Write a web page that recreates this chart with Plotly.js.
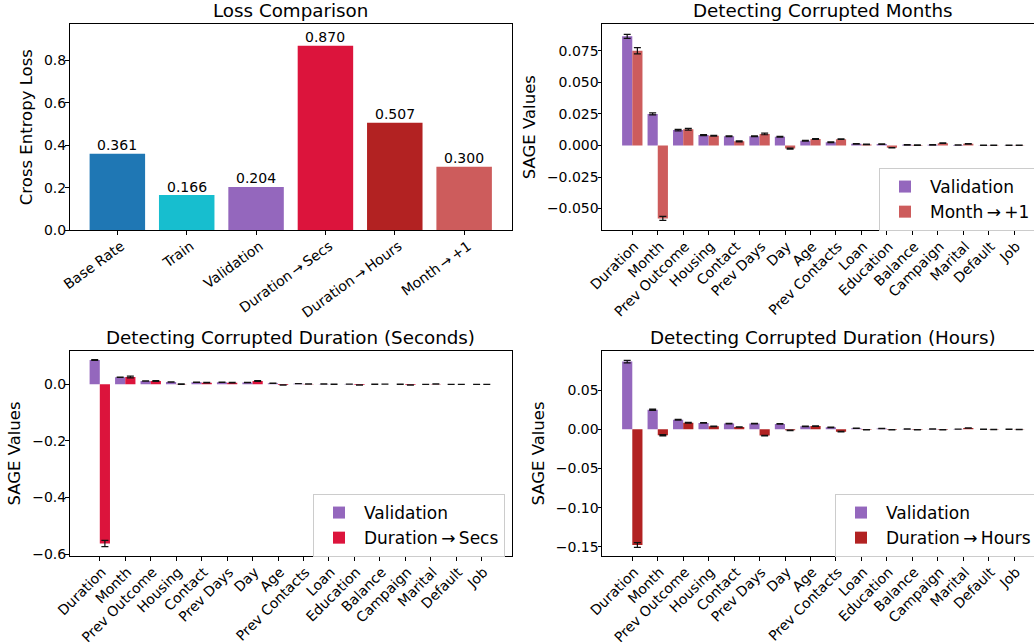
<!DOCTYPE html>
<html>
<head>
<meta charset="utf-8">
<script src="https://cdn.plot.ly/plotly-3.0.1.min.js"></script>
<style>
  html, body { margin: 0; padding: 0; overflow: hidden; background: #fff; }
  #chart { width: 1060px; height: 644px; }
</style>
</head>
<body>
<div id="chart"></div>
<script>
// ---------- data ----------
const lossLabels = ['Base Rate', 'Train', 'Validation', 'Duration\u2009→\u2009Secs', 'Duration\u2009→\u2009Hours', 'Month\u2009→\u2009+1'];
const lossValues = [0.361, 0.166, 0.204, 0.870, 0.507, 0.300];

const features = ['Duration', 'Month', 'Prev Outcome', 'Housing', 'Contact', 'Prev Days', 'Day', 'Age',
  'Prev Contacts', 'Loan', 'Education', 'Balance', 'Campaign', 'Marital', 'Default', 'Job'];

const validation    = [0.0864, 0.0250, 0.0122, 0.0082, 0.0073, 0.0073, 0.0069, 0.0038, 0.0026, 0.0013, 0.0011, 0.0005, 0.0005, 0.0003, 0.0001, 0.0001];
const validationErr = [0.0016, 0.0008, 0.0006, 0.0004, 0.0004, 0.0004, 0.0004, 0.0003, 0.0003, 0.0002, 0.0002, 0.0002, 0.0002, 0.0001, 0.0001, 0.0001];

const monthPlus1    = [0.0750, -0.0578, 0.0129, 0.0077, 0.0033, 0.0091, -0.0025, 0.0051, 0.0050, 0.0008, -0.0018, 0.0003, 0.0018, 0.0013, 0.0001, 0.0001];
const monthPlus1Err = [0.0025, 0.0016, 0.0007, 0.0004, 0.0004, 0.0006, 0.0004, 0.0003, 0.0003, 0.0002, 0.0002, 0.0002, 0.0002, 0.0002, 0.0001, 0.0001];

const durSecs       = [-0.5625, 0.0260, 0.0118, 0.0010, 0.0060, 0.0060, 0.0120, -0.0020, 0.0010, 0.0005, -0.0020, 0.0008, -0.0020, 0.0015, 0.0002, 0.0002];
const durSecsErr    = [0.0110, 0.0030, 0.0012, 0.0008, 0.0008, 0.0008, 0.0012, 0.0006, 0.0005, 0.0004, 0.0005, 0.0004, 0.0005, 0.0004, 0.0002, 0.0002];

const durHours      = [-0.1475, -0.0076, 0.0085, 0.0038, 0.0030, -0.0080, -0.0013, 0.0042, -0.0030, -0.0004, -0.0004, -0.0005, -0.0005, 0.0017, -0.0002, -0.0002];
const durHoursErr   = [0.0030, 0.0008, 0.0005, 0.0003, 0.0003, 0.0005, 0.0003, 0.0003, 0.0003, 0.0002, 0.0002, 0.0002, 0.0002, 0.0002, 0.0001, 0.0001];

const seriesNames = ['Validation', 'Month\u2009→\u2009+1', 'Duration\u2009→\u2009Secs', 'Duration\u2009→\u2009Hours'];

// ---------- style ----------
const C = {
  base: '#1f77b4', train: '#17becf', valid: '#9467bd',
  secs: '#dc143c', hours: '#b22222', month: '#cd5c5c'
};
const lossColors = [C.base, C.train, C.valid, C.secs, C.hours, C.month];
const FONT = 'DejaVu Sans, Liberation Sans, sans-serif';
const W = 1060, H = 644;
const px = v => v / W;
const py = v => 1 - v / H;

function errSpec(arr) {
  return { type: 'data', array: arr, visible: true, color: '#111', thickness: 1.2, width: 3.5 };
}

const traces = [
  {
    type: 'bar', x: lossLabels, y: lossValues, xaxis: 'x', yaxis: 'y',
    marker: { color: lossColors }, showlegend: false, hoverinfo: 'skip'
  },
  { type: 'bar', name: seriesNames[0], x: features, y: validation, error_y: errSpec(validationErr),
    xaxis: 'x2', yaxis: 'y2', marker: { color: C.valid }, legend: 'legend' },
  { type: 'bar', name: seriesNames[1], x: features, y: monthPlus1, error_y: errSpec(monthPlus1Err),
    xaxis: 'x2', yaxis: 'y2', marker: { color: C.month }, legend: 'legend' },
  { type: 'bar', name: seriesNames[0], x: features, y: validation, error_y: errSpec(validationErr),
    xaxis: 'x3', yaxis: 'y3', marker: { color: C.valid }, legend: 'legend2' },
  { type: 'bar', name: seriesNames[2], x: features, y: durSecs, error_y: errSpec(durSecsErr),
    xaxis: 'x3', yaxis: 'y3', marker: { color: C.secs }, legend: 'legend2' },
  { type: 'bar', name: seriesNames[0], x: features, y: validation, error_y: errSpec(validationErr),
    xaxis: 'x4', yaxis: 'y4', marker: { color: C.valid }, legend: 'legend3' },
  { type: 'bar', name: seriesNames[3], x: features, y: durHours, error_y: errSpec(durHoursErr),
    xaxis: 'x4', yaxis: 'y4', marker: { color: C.hours }, legend: 'legend3' }
];

const xLeft = [px(69.5), px(512)];
const xRight = [px(602), px(1044.4)];
const yTop = [py(230.3), py(24)];
const yBot = [py(556), py(351)];

function xAxis(domain, anchor, range, angle, shift) {
  return {
    domain: domain, anchor: anchor, range: range, type: 'category',
    showline: true, mirror: true, linecolor: '#000', linewidth: 1,
    ticks: 'outside', ticklen: 3.5, tickwidth: 1, tickcolor: '#000',
    ticklabelstandoff: -2, ticklabelshift: shift,
    tickangle: angle, showgrid: false, zeroline: false,
    tickfont: { family: FONT, size: 14, color: '#000' }
  };
}
function yAxis(domain, anchor, range, dtick, fmt, title) {
  return {
    domain: domain, anchor: anchor, range: range, dtick: dtick, tick0: 0, tickformat: fmt,
    showline: true, mirror: true, linecolor: '#000', linewidth: 1,
    ticks: 'outside', ticklen: 3.5, tickwidth: 1, tickcolor: '#000',
    ticklabelstandoff: -4,
    showgrid: false, zeroline: false,
    tickfont: { family: FONT, size: 14, color: '#000' },
    title: { text: title, font: { family: FONT, size: 16.5, color: '#000' }, standoff: 7 }
  };
}
function legendSpec(x, y) {
  return {
    x: x, y: y, xanchor: 'left', yanchor: 'top', xref: 'paper', yref: 'paper',
    bgcolor: 'rgba(255,255,255,0.8)', bordercolor: '#cccccc', borderwidth: 1,
    font: { family: FONT, size: 17, color: '#000' }, itemwidth: 40, tracegroupgap: 0
  };
}
function titleAnn(text, xc, ytop) {
  return {
    text: text, xref: 'paper', yref: 'paper', x: xc, y: ytop, xanchor: 'center', yanchor: 'bottom',
    yshift: 1, showarrow: false, font: { family: FONT, size: 18.3, color: '#000' }
  };
}

const annotations = [
  titleAnn('Loss Comparison', (xLeft[0] + xLeft[1]) / 2, yTop[1]),
  titleAnn('Detecting Corrupted Months', (xRight[0] + xRight[1]) / 2, yTop[1]),
  titleAnn('Detecting Corrupted Duration (Seconds)', (xLeft[0] + xLeft[1]) / 2, yBot[1]),
  titleAnn('Detecting Corrupted Duration (Hours)', (xRight[0] + xRight[1]) / 2, yBot[1])
];
// value labels above the loss bars, placed through the data axes
lossLabels.forEach((lab, i) => {
  annotations.push({
    x: lab, y: lossValues[i], xref: 'x', yref: 'y', text: lossValues[i].toFixed(3),
    xanchor: 'center', yanchor: 'bottom', yshift: -1.5, showarrow: false,
    font: { family: FONT, size: 14, color: '#000' }
  });
});

const layout = {
  width: W, height: H, margin: { l: 0, r: 0, t: 0, b: 0 },
  paper_bgcolor: '#fff', plot_bgcolor: '#fff',
  barmode: 'group', bargap: 0.2, bargroupgap: 0,
  font: { family: FONT, color: '#000' },
  xaxis: xAxis(xLeft, 'y', [-0.69, 5.69], -36, 4),
  yaxis: yAxis(yTop, 'x', [0, 0.972], 0.2, '.1f', 'Cross Entropy Loss'),
  xaxis2: xAxis(xRight, 'y2', [-1.19, 16.19], -45, 2),
  yaxis2: yAxis(yTop, 'x2', [-0.0672, 0.0962], 0.025, '.3f', 'SAGE Values'),
  xaxis3: xAxis(xLeft, 'y3', [-1.19, 16.19], -45, 2),
  yaxis3: yAxis(yBot, 'x3', [-0.607, 0.118], 0.2, '.1f', 'SAGE Values'),
  xaxis4: xAxis(xRight, 'y4', [-1.19, 16.19], -45, 2),
  yaxis4: yAxis(yBot, 'x4', [-0.1615, 0.0999], 0.05, '.2f', 'SAGE Values'),
  legend: legendSpec(px(879), py(168)),
  legend2: legendSpec(px(313), py(494)),
  legend3: legendSpec(px(835), py(494)),
  annotations: annotations
};

Plotly.newPlot('chart', traces, layout, { displayModeBar: false, staticPlot: true });
</script>
</body>
</html>
